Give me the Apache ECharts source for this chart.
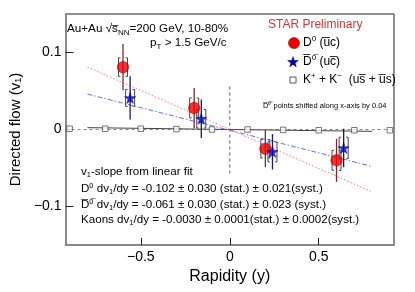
<!DOCTYPE html>
<html><head><meta charset="utf-8">
<script src="https://cdn.jsdelivr.net/npm/echarts@6/dist/echarts.min.js"></script>
<style>html,body{margin:0;padding:0;background:#fff}#c{width:415px;height:292px}</style>
</head><body><div id="c"></div>
<script>
// ---- data ----
const d0X = [-0.6, -0.2, 0.2, 0.6];
const d0V1 = [0.081, 0.028, -0.025, -0.040];
const d0Stat = [0.030, 0.026, 0.024, 0.028];
const d0Syst = [0.012, 0.013, 0.012, 0.013];

const d0barX = [-0.56, -0.16, 0.24, 0.64];
const d0barV1 = [0.041, 0.014, -0.029, -0.024];
const d0barStat = [0.028, 0.025, 0.023, 0.025];
const d0barSyst = [0.011, 0.012, 0.013, 0.014];

const kaonX = [-0.9, -0.7, -0.5, -0.3, -0.1, 0.1, 0.3, 0.5, 0.7, 0.9];
const kaonV1 = [0.001, 0.001, 0.001, 0.0005, 0.0, 0.0, -0.0005, -0.001, -0.001, -0.001];

const fitX = [-0.8, 0.8];
const d0FitY = [0.081, -0.081];
const d0barFitY = [0.046, -0.048];
const kaonFitY = [0.0024, -0.0024];
const zeroLineX = [-0.923, 0.923];
const zeroLineY = [0, 0];
const midLineX = [0, 0];
const midLineY = [0.056, -0.06];

const xTicks = [-0.5, 0, 0.5];
const yTicks = [-0.1, 0, 0.1];

const FONT = 'Liberation Sans, Arial, Helvetica, sans-serif';
const fmt = v => v < 0 ? '\u2212' + Math.abs(v) : (v === 0 ? '0' : String(v));

function pairs(xs, ys, es) { return xs.map((x, i) => es ? [x, ys[i], es[i]] : [x, ys[i]]); }

function errBar(color) {
  return function (params, api) {
    const x = api.value(0), y = api.value(1), e = api.value(2);
    const p1 = api.coord([x, y + e]), p2 = api.coord([x, y - e]);
    return { type: 'line', shape: { x1: p1[0], y1: p1[1], x2: p2[0], y2: p2[1] },
      style: { stroke: color, lineWidth: 1.3 } };
  };
}
function bracket(params, api) {
  const x = api.value(0), y = api.value(1), e = api.value(2);
  const c = api.coord([x, y]);
  const top = api.coord([x, y + e])[1], bot = api.coord([x, y - e])[1];
  const w = 4.5, cap = 2;
  const st = { stroke: '#444', lineWidth: 1, fill: null };
  return { type: 'group', children: [
    { type: 'polyline', shape: { points: [[c[0] - w + cap, top], [c[0] - w, top], [c[0] - w, bot], [c[0] - w + cap, bot]] }, style: st },
    { type: 'polyline', shape: { points: [[c[0] + w - cap, top], [c[0] + w, top], [c[0] + w, bot], [c[0] + w - cap, bot]] }, style: st }
  ]};
}
const STAR_PTS = [[50,0],[61,35],[98,35],[68,57],[79,91],[50,70],[21,91],[32,57],[2,35],[39,35]];
const STAR = 'path://M' + STAR_PTS.map(p => p.join(',')).join(' L') + ' Z';
function starAt(cx, cy, s) { return STAR_PTS.map(p => [cx + (p[0] - 50) * s / 100, cy + (p[1] - 48) * s / 100]); }

const chart = echarts.init(document.getElementById('c'), null, { renderer: 'canvas' });
const rich = {
  n: { fontSize: 12, fontFamily: FONT, color: '#000', lineHeight: 15 },
  sub: { fontSize: 8, fontFamily: FONT, color: '#000', verticalAlign: 'bottom', lineHeight: 15, padding: [4, 0, 0, 0] },
  sup: { fontSize: 8, fontFamily: FONT, color: '#000', verticalAlign: 'top', lineHeight: 15 }
};
const richT = {
  n: { fontSize: 11.7, fontFamily: FONT, color: '#000', lineHeight: 15 },
  sub: { fontSize: 8, fontFamily: FONT, color: '#000', verticalAlign: 'bottom', lineHeight: 15, padding: [4, 0, 0, 0] }
};
const richS = {
  n: { fontSize: 11.6, fontFamily: FONT, color: '#000', lineHeight: 14 },
  sub: { fontSize: 7.5, fontFamily: FONT, color: '#000', verticalAlign: 'bottom', lineHeight: 14, padding: [4, 0, 0, 0] },
  sup: { fontSize: 7.5, fontFamily: FONT, color: '#000', verticalAlign: 'top', lineHeight: 14 }
};

chart.setOption({
  animation: false,
  backgroundColor: '#fff',
  grid: { left: 58, right: 21, top: 14, bottom: 47, show: true, borderColor: '#222', borderWidth: 1 },
  xAxis: {
    type: 'value', min: -0.923, max: 0.923,
    name: 'Rapidity (y)', nameLocation: 'middle', nameGap: 20,
    nameTextStyle: { fontSize: 16, fontFamily: FONT, color: '#000' },
    axisLine: { show: true, onZero: false, lineStyle: { color: '#888', width: 2 } },
    axisTick: { show: true, inside: true, length: 7, customValues: xTicks, lineStyle: { color: '#222' } },
    axisLabel: { customValues: xTicks, formatter: fmt, fontSize: 14, fontFamily: FONT, color: '#000', margin: 5 },
    splitLine: { show: false }
  },
  yAxis: {
    type: 'value', min: -0.15, max: 0.15,
    name: 'Directed flow (v\u2081)', nameLocation: 'middle', nameGap: 30,
    nameTextStyle: { fontSize: 15, fontFamily: FONT, color: '#000' },
    axisLine: { show: true, onZero: false, lineStyle: { color: '#888', width: 2 } },
    axisTick: { show: true, inside: true, length: 8, customValues: yTicks, lineStyle: { color: '#222' } },
    axisLabel: { customValues: yTicks, formatter: fmt, fontSize: 14, fontFamily: FONT, color: '#000', margin: 4 },
    splitLine: { show: false }
  },
  series: [
    { type: 'line', data: pairs(zeroLineX, zeroLineY), symbol: 'none', z: 1,
      lineStyle: { color: '#888', width: 1.2, type: [3, 3] } },
    { type: 'line', data: pairs(midLineX, midLineY), symbol: 'none', z: 1,
      lineStyle: { color: '#777', width: 1.2, type: [3, 3] } },
    { type: 'line', data: pairs(fitX, kaonFitY), symbol: 'none', z: 2,
      lineStyle: { color: '#444', width: 1 } },
    { type: 'line', data: pairs(fitX, d0FitY), symbol: 'none', z: 2,
      lineStyle: { color: '#ff7070', width: 1, type: [1.5, 2] } },
    { type: 'line', data: pairs(fitX, d0barFitY), symbol: 'none', z: 2,
      lineStyle: { color: '#6a6aff', width: 1, type: [5, 2, 1.5, 2] } },
    { type: 'custom', renderItem: bracket, data: pairs(d0X, d0V1, d0Syst), z: 3 },
    { type: 'custom', renderItem: bracket, data: pairs(d0barX, d0barV1, d0barSyst), z: 3 },
    { type: 'custom', renderItem: errBar('#7a2a2a'), data: pairs(d0X, d0V1, d0Stat), z: 4 },
    { type: 'custom', renderItem: errBar('#1a1a66'), data: pairs(d0barX, d0barV1, d0barStat), z: 4 },
    { name: 'Kaon', type: 'scatter', data: pairs(kaonX, kaonV1), symbol: 'rect', symbolSize: 5.5, z: 5,
      itemStyle: { color: '#fff', borderColor: '#555', borderWidth: 1 } },
    { name: 'D0', type: 'scatter', data: pairs(d0X, d0V1), symbol: 'circle', symbolSize: 11.5, z: 6,
      itemStyle: { color: '#ee0000', borderColor: '#990000', borderWidth: 0.6 } },
    { name: 'D0bar', type: 'scatter', data: pairs(d0barX, d0barV1), symbol: STAR, symbolSize: 11, z: 6,
      itemStyle: { color: '#0000dd', borderColor: '#000044', borderWidth: 0.6 } }
  ],
  graphic: [
    { type: 'text', left: 67, top: 23, style: { rich: richT,
      text: '{n|Au+Au \u221As\u0305}{sub|NN}{n|=200 GeV, 10-80%}' } },
    { type: 'text', left: 150, top: 37, style: { rich: richT,
      text: '{n|p}{sub|T}{n| > 1.5 GeV/c}' } },
    { type: 'text', left: 268, top: 19, style: { text: 'STAR Preliminary', fontSize: 12, fontFamily: FONT, fill: '#dd3333' } },
    { type: 'circle', shape: { cx: 294, cy: 43, r: 5.5 }, style: { fill: '#ee0000', stroke: '#990000', lineWidth: 0.6 } },
    { type: 'text', left: 303, top: 35, style: { rich: rich, text: '{n|D}{sup|0}{n| (u\u0305c)}' } },
    { type: 'polygon', shape: { points: starAt(293, 62, 11) },
      style: { fill: '#0000dd', stroke: '#000044', lineWidth: 0.6 } },
    { type: 'text', left: 303, top: 54, style: { rich: rich, text: '{n|D\u0305}{sup|0\u0305}{n| (uc\u0305)}' } },
    { type: 'rect', shape: { x: 290, y: 77, width: 6, height: 6 }, style: { fill: '#fff', stroke: '#555', lineWidth: 1 } },
    { type: 'text', left: 303, top: 72, style: { rich: rich, text: '{n|K}{sup|+}{n| + K}{sup|\u2212}{n|  (us\u0305 + u\u0305s)}' } },
    { type: 'text', left: 263, top: 102, style: { text: 'D\u0305\u2070\u0305 points shifted along x-axis by 0.04', fontSize: 7.5, fontFamily: FONT, fill: '#000' } },
    { type: 'text', left: 81, top: 166, style: { rich: richS, text: '{n|v}{sub|1}{n|-slope from linear fit}' } },
    { type: 'text', left: 81, top: 182, style: { rich: richS, text: '{n|D}{sup|0}{n| dv}{sub|1}{n|/dy = -0.102 \u00B1 0.030 (stat.) \u00B1 0.021(syst.)}' } },
    { type: 'text', left: 81, top: 198, style: { rich: richS, text: '{n|D\u0305}{sup|0\u0305}{n| dv}{sub|1}{n|/dy = -0.061 \u00B1 0.030 (stat.) \u00B1 0.023 (syst.)}' } },
    { type: 'text', left: 81, top: 214, style: { rich: richS, text: '{n|Kaons dv}{sub|1}{n|/dy = -0.0030 \u00B1 0.0001(stat.) \u00B1 0.0002(syst.)}' } }
  ]
});
</script></body></html>
